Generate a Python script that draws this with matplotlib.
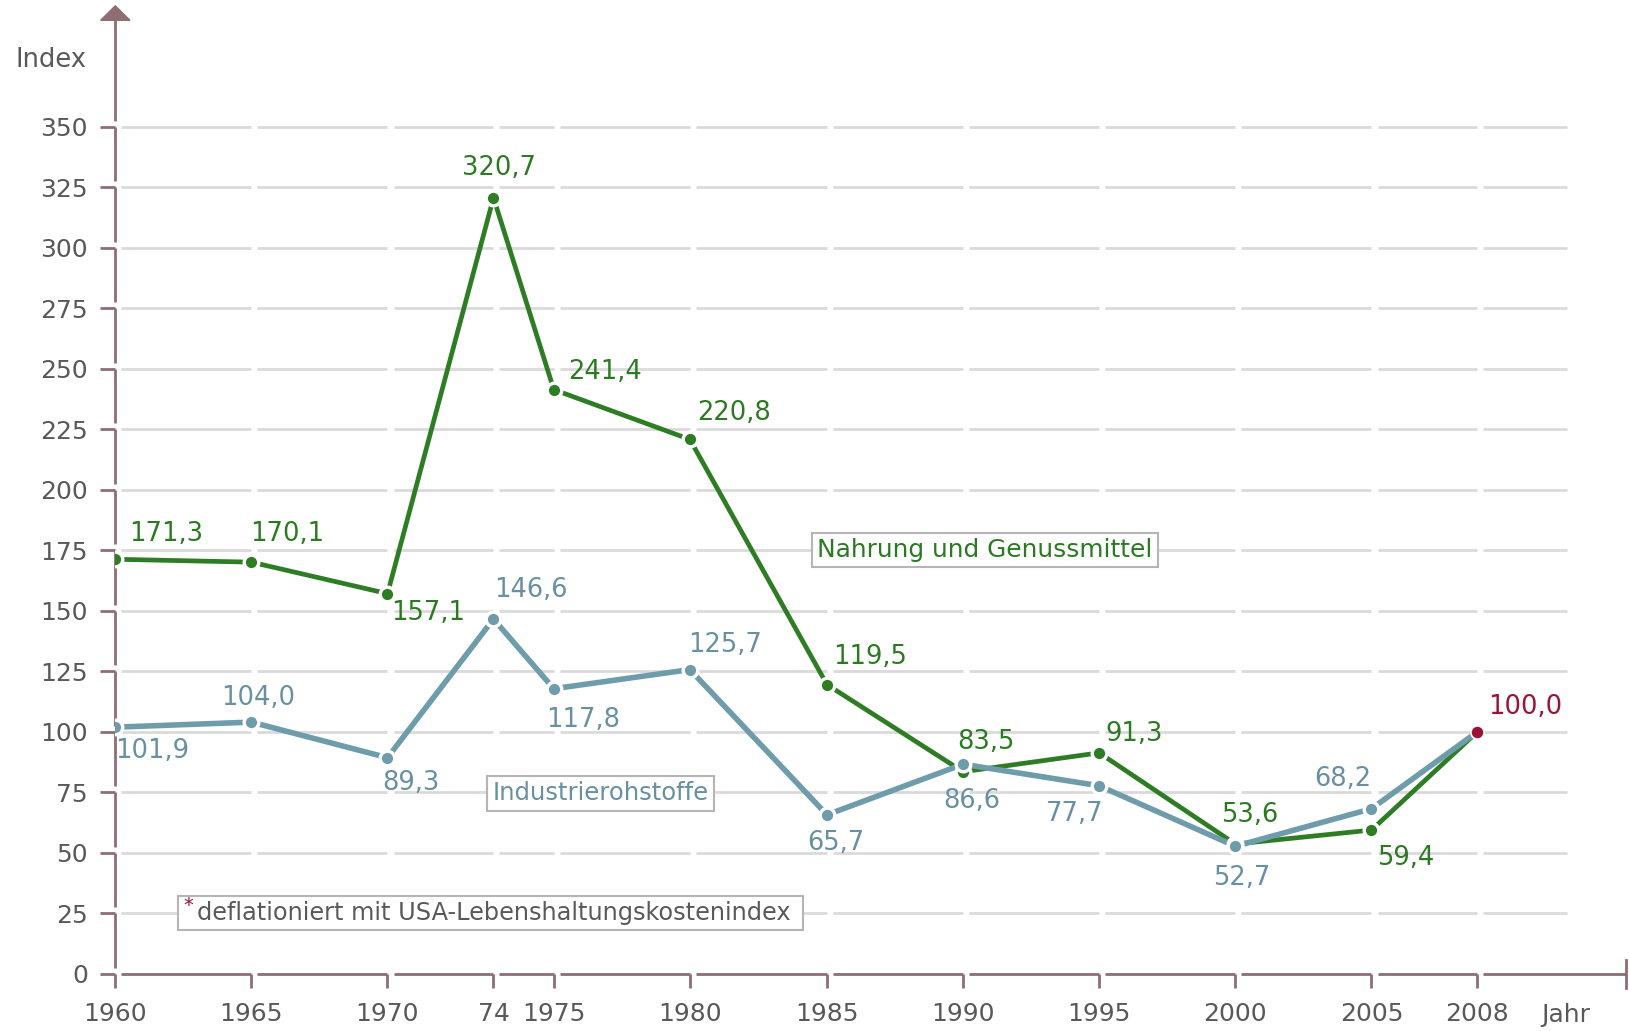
import numpy as np
import matplotlib
matplotlib.use("Agg")
import matplotlib.pyplot as plt
from matplotlib.patches import Polygon, Rectangle

# data
years = [1960, 1965, 1970, 1974, 1975, 1980, 1985, 1990, 1995, 2000, 2005, 2008]
year_labels = ["1960", "1965", "1970", "74", "1975", "1980", "1985",
               "1990", "1995", "2000", "2005", "2008"]
nahrung = [171.3, 170.1, 157.1, 320.7, 241.4, 220.8, 119.5, 83.5, 91.3, 53.6, 59.4, 100.0]
industrie = [101.9, 104.0, 89.3, 146.6, 117.8, 125.7, 65.7, 86.6, 77.7, 52.7, 68.2, 100.0]
y_ticks = list(range(0, 351, 25))

# label offsets in pixels (dx, dy up) for each point
green_off = [(51, 25), (36, 28), (41, -19), (6, 30), (51, 18), (44, 26),
             (43, 28), (23, 30), (35, 19), (14, 29), (34, -28)]
blue_off = [(37, -24), (7, 24), (23, -25), (37, 29), (29, -31), (35, 25),
            (9, -28), (9, -37), (-25, -28), (6, -32), (-29, 30)]

green = "#2e7d25"
green_txt = "#2b7a22"
blue = "#6e9caa"
blue_txt = "#6790a0"
red = "#9b1235"
axis_c = "#8e6e73"
grid_c = "#dadada"
text_c = "#595959"
box_c = "#b5b5b5"
fs = 18.5

plt.rcParams['font.family'] = ['DejaVu Sans']

W, H = 1629, 1031
fig = plt.figure(figsize=(W / 100, H / 100), dpi=100)

# the year spacing of the original is not linear -> piecewise scale
slot_years = [1900] + years + [2012, 2100]
slot_px = [-1519, 115.3, 251.4, 387.5, 493.5, 553.8, 689.9, 827.0, 963.1,
           1099.2, 1235.4, 1371.5, 1477.4, 1626.0, 4891]


def fwd(x):
    return np.interp(x, slot_years, slot_px)


def inv(p):
    return np.interp(p, slot_px, slot_years)


ax = fig.add_axes([115.3 / W, (H - 973.8) / H, (1626 - 115.3) / W, 968 / H])
ax.set_xscale('function', functions=(fwd, inv))
ax.set_xlim(1960, 2012)
ax.set_ylim(0, 400)
for s in ax.spines.values():
    s.set_visible(False)

ax.set_xticks(years, year_labels)
ax.set_yticks(y_ticks)
ax.tick_params(axis='x', direction='out', length=10, width=2, color=axis_c,
               pad=10, labelsize=18, labelcolor=text_c)
ax.tick_params(axis='y', direction='out', length=10.8, width=2, color=axis_c,
               pad=9, labelsize=18, labelcolor=text_c)

px_per_unit = 968 / 400
gap = 6
gap_y = gap / px_per_unit
tick_px = fwd(np.array(years, dtype=float))


def pieces(end_px):
    stops = list(tick_px[1:]) + [end_px]
    return [(inv(a + gap), inv(b)) for a, b in zip(tick_px, stops)]


# broken grid lines
for y in y_ticks[1:]:
    for a, b in pieces(1567):
        ax.plot([a, b], [y, y], color=grid_c, lw=2, zorder=1, solid_capstyle='butt')

# broken x axis
for a, b in pieces(1626):
    ax.plot([a, b], [0, 0], color=axis_c, lw=2, zorder=2, clip_on=False,
            solid_capstyle='butt')
ax.plot([2012, 2012], [-14 / px_per_unit, 14 / px_per_unit], color=axis_c, lw=2,
        clip_on=False, zorder=2)

# broken y axis with arrow
for lo, hi in zip(y_ticks[:-1], y_ticks[1:]):
    ax.plot([1960, 1960], [lo + gap_y, hi], color=axis_c, lw=2, zorder=2,
            clip_on=False, solid_capstyle='butt')
ax.plot([1960, 1960], [350 + gap_y, 394], color=axis_c, lw=2, zorder=2,
        clip_on=False, solid_capstyle='butt')
ax.add_patch(Polygon([(inv(115.3 - 14.7), 394), (inv(115.3 + 14.7), 394), (1960, 400)],
                     closed=True, color=axis_c, clip_on=False, zorder=2))

# lines
ax.plot(years, nahrung, color=green, lw=3.4, zorder=3, solid_capstyle='butt')
ax.plot(years, industrie, color=blue, lw=4, zorder=3, solid_capstyle='butt')
ax.plot(years[:-1], nahrung[:-1], 'o', ms=10.5, mfc=green, mec='white', mew=2.4, zorder=5)
ax.plot(years[:-1], industrie[:-1], 'o', ms=10.5, mfc=blue, mec='white', mew=2.4, zorder=5)
ax.plot(years[-1], nahrung[-1], 'o', ms=9.5, mfc=red, mec='white', mew=1.2, zorder=6)


def fmt(v):
    return f"{v:.1f}".replace(".", ",")


for x, v, (dx, dy) in zip(years[:-1], nahrung[:-1], green_off):
    ax.annotate(fmt(v), (x, v), xytext=(dx * 0.72, dy * 0.72), textcoords='offset points',
                ha='center', va='center', fontsize=fs, color=green_txt, zorder=7)
for x, v, (dx, dy) in zip(years[:-1], industrie[:-1], blue_off):
    ax.annotate(fmt(v), (x, v), xytext=(dx * 0.72, dy * 0.72), textcoords='offset points',
                ha='center', va='center', fontsize=fs, color=blue_txt, zorder=7)
ax.annotate(fmt(nahrung[-1]), (years[-1], nahrung[-1]), xytext=(48 * 0.72, 25 * 0.72),
            textcoords='offset points', ha='center', va='center', fontsize=fs,
            color=red, zorder=7)


def px(x, y):
    return x / W, 1 - y / H


box = dict(boxstyle='square,pad=0.22', fc='white', ec=box_c, lw=1.5)
fig.text(*px(817, 550), "Nahrung und Genussmittel", ha='left', va='center',
         fontsize=17.9, color=green_txt, bbox=box, zorder=8)
fig.text(*px(492.5, 793.5), "Industrierohstoffe", ha='left', va='center',
         fontsize=17.5, color=blue_txt, bbox=box, zorder=8)

# footnote box
fig.add_artist(Rectangle(px(178, 930), 625 / W, 34 / H, transform=fig.transFigure,
                         fc='white', ec=box_c, lw=1.5, zorder=8))
fig.text(*px(197, 913), "deflationiert mit USA-Lebenshaltungskostenindex",
         ha='left', va='center', fontsize=17.3, color=text_c, zorder=9)
fig.text(*px(183, 906), "*", ha='left', va='center', fontsize=14, color=red, zorder=9)

fig.text(*px(87, 60), "Index", ha='right', va='center', fontsize=fs, color=text_c)
fig.text(*px(1566, 1015), "Jahr", ha='center', va='center', fontsize=18, color=text_c)

fig.savefig("out.png", dpi=100)
